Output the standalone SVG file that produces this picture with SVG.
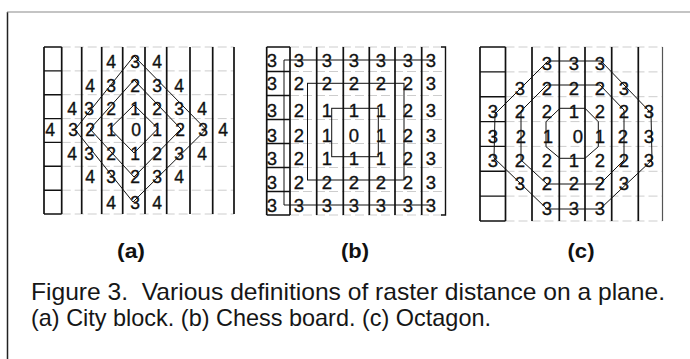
<svg xmlns="http://www.w3.org/2000/svg" width="690" height="359" viewBox="0 0 690 359">
  <style>
    .vline { stroke: #111; stroke-width: 1.7; fill: none; }
    .box   { stroke: #111; stroke-width: 1.4; fill: none; }
    .faint { stroke: #cdcdcd; stroke-width: 1; stroke-dasharray: 9 4; fill: none; }
    .ring  { stroke: #111; stroke-width: 1; fill: none; stroke-linejoin: miter; }
    .num   { font-family: "Liberation Sans", Arial, sans-serif; font-size: 18.5px; fill: #111; stroke: #111; stroke-width: 0.35; text-anchor: middle; }
    .numA  { font-size: 17.5px; }
    .label { font-family: "Liberation Sans", Arial, sans-serif; font-weight: bold; font-size: 20px; fill: #111; text-anchor: middle; }
    .cap   { font-family: "Liberation Sans", Arial, sans-serif; font-size: 24px; fill: #161616; white-space: pre; }
  </style>

  <rect width="690" height="359" fill="#fff"/>

  <!-- outer frame: left rule and top rule only -->
  <g id="frame">
    <line x1="7.5" y1="12" x2="7.5" y2="359" stroke="#222" stroke-width="1.5"/>
    <line x1="7" y1="12" x2="690" y2="12" stroke="#8a8a8a" stroke-width="1.2"/>
  </g>

  <!-- (a) city block distance -->
  <g id="panel-a">
    <g id="grid-a">
      <path class="faint" d="M61.7 47H234M61.7 70.9H234M61.7 94.7H234M61.7 118.6H234M61.7 142.4H234M61.7 166.3H234M61.7 190.2H234M61.7 214H234"/>
      <path class="box" d="M44 47H61.7M44 70.9H61.7M44 94.7H61.7M44 118.6H61.7M44 142.4H61.7M44 166.3H61.7M44 190.2H61.7M44 214H61.7"/>
      <path class="vline" d="M44 47V214M61.7 47V214M81.7 47V214M101.7 47V214M122.7 47V214M145 47V214M166.7 47V214M190 47V214M212.7 47V214M234 47V214"/>
    </g>
    <g id="rings-a">
      <polygon class="ring" points="134,56 206,129.5 133,202 75,129.5"/>
      <polygon class="ring" points="134,80 181,129 134,177 90,129"/>
      <polygon class="ring" points="134,105 158,128.5 134,153 110,128.5"/>
    </g>
    <g id="values-a" class="num numA">
      <text x="111 135 157" y="68">434</text>
      <text x="90 111 135 157 179" y="91.5">43234</text>
      <text x="72 89 111 135 157 179 202" y="114.5">4321234</text>
      <text x="50 73 90 111 136 157 180 203 223" y="135.5">432101234</text>
      <text x="72 89 111 135 157 179 202" y="159.5">4321234</text>
      <text x="90 111 135 157 179" y="183">43234</text>
      <text x="111 135 157" y="208.5">434</text>
    </g>
  </g>

  <!-- (b) chess board distance -->
  <g id="panel-b">
    <g id="grid-b">
      <path class="faint" d="M290 47H445M290 71.5H445M290 95.5H445M290 119.5H445M290 143.5H445M290 167.5H445M290 191.5H445M290 215H445"/>
      <path class="box" d="M266.7 47H290M266.7 71.5H290M266.7 95.5H290M266.7 119.5H290M266.7 143.5H290M266.7 167.5H290M266.7 191.5H290M266.7 215H290"/>
      <path class="vline" d="M266.7 47V215M290 47V215M316.7 47V215M343.3 47V215M369.3 47V215M395 47V215M421.7 47V215"/>
      <path class="box" d="M441 47H445.5V215H441"/>
    </g>
    <g id="rings-b">
      <path class="ring" d="M431 60H284V205H431"/>
      <rect class="ring" x="307.5" y="83.3" width="96.5" height="96.7"/>
      <rect class="ring" x="331.7" y="108.3" width="46.6" height="48.4"/>
    </g>
    <g id="values-b" class="num">
      <text x="272 299 327 354 381 408 431" y="66.5">3333333</text>
      <text x="272 299 327 354 381 408 431" y="90">3222223</text>
      <text x="272 299 327 354 381 408 431" y="116.5">3211123</text>
      <text x="272 299 327 354 381 408 431" y="141.5">3210123</text>
      <text x="272 299 327 354 381 408 431" y="165">3211123</text>
      <text x="272 299 327 354 381 408 431" y="188.5">3222223</text>
      <text x="272 299 327 354 381 408 431" y="211.5">3333333</text>
    </g>
  </g>

  <!-- (c) octagonal distance -->
  <g id="panel-c">
    <g id="grid-c">
      <path class="faint" d="M505.5 47H662.5M505.5 71.9H662.5M505.5 96.7H662.5M505.5 121.6H662.5M505.5 146.4H662.5M505.5 171.3H662.5M505.5 196.1H662.5M505.5 221H662.5"/>
      <path class="box" d="M480 47H505.5M480 71.9H505.5M480 96.7H505.5M480 121.6H505.5M480 146.4H505.5M480 171.3H505.5M480 196.1H505.5M480 221H505.5"/>
      <path class="vline" d="M480 47V221M505.5 47V221M532 47V221M559.3 47V221M585 47V221M611.7 47V221M638.3 47V221"/>
      <path d="M662.5 47V221" stroke="#555" stroke-width="1.2"/>
    </g>
    <g id="rings-c">
      <polygon class="ring" points="548,61 601,61 651,113 652,160 600,209 547,209 494,158 495,114"/>
      <polygon class="ring" points="547,85 600,85 624,110 624,160 600,184 547,184 521,160 521,111"/>
      <polygon class="ring" points="560,108.3 585,108.3 598.3,121.7 598.3,146.7 585,158.3 560,158.3 546,146.7 546,121.7"/>
    </g>
    <g id="values-c" class="num">
      <text x="547 574 600" y="69.5">333</text>
      <text x="520 547 574 600 624" y="94.5">32223</text>
      <text x="493 520 547 574 600 624 649" y="118">3221223</text>
      <text x="493 521 548 578 600 623 649" y="143">3210123</text>
      <text x="493 520 547 574 600 624 649" y="166.5">3221223</text>
      <text x="520 547 574 600 624" y="190">32223</text>
      <text x="547 574 600" y="215">333</text>
    </g>
  </g>

  <g id="labels">
    <text class="label" x="131" y="258" textLength="28" lengthAdjust="spacingAndGlyphs">(a)</text>
    <text class="label" x="355" y="258" textLength="28" lengthAdjust="spacingAndGlyphs">(b)</text>
    <text class="label" x="581" y="258" textLength="27" lengthAdjust="spacingAndGlyphs">(c)</text>
  </g>

  <g id="caption">
    <text class="cap" x="31" y="300" textLength="634" lengthAdjust="spacingAndGlyphs">Figure 3.  Various definitions of raster distance on a plane.</text>
    <text class="cap" x="31" y="326" textLength="460" lengthAdjust="spacingAndGlyphs">(a) City block. (b) Chess board. (c) Octagon.</text>
  </g>
</svg>
